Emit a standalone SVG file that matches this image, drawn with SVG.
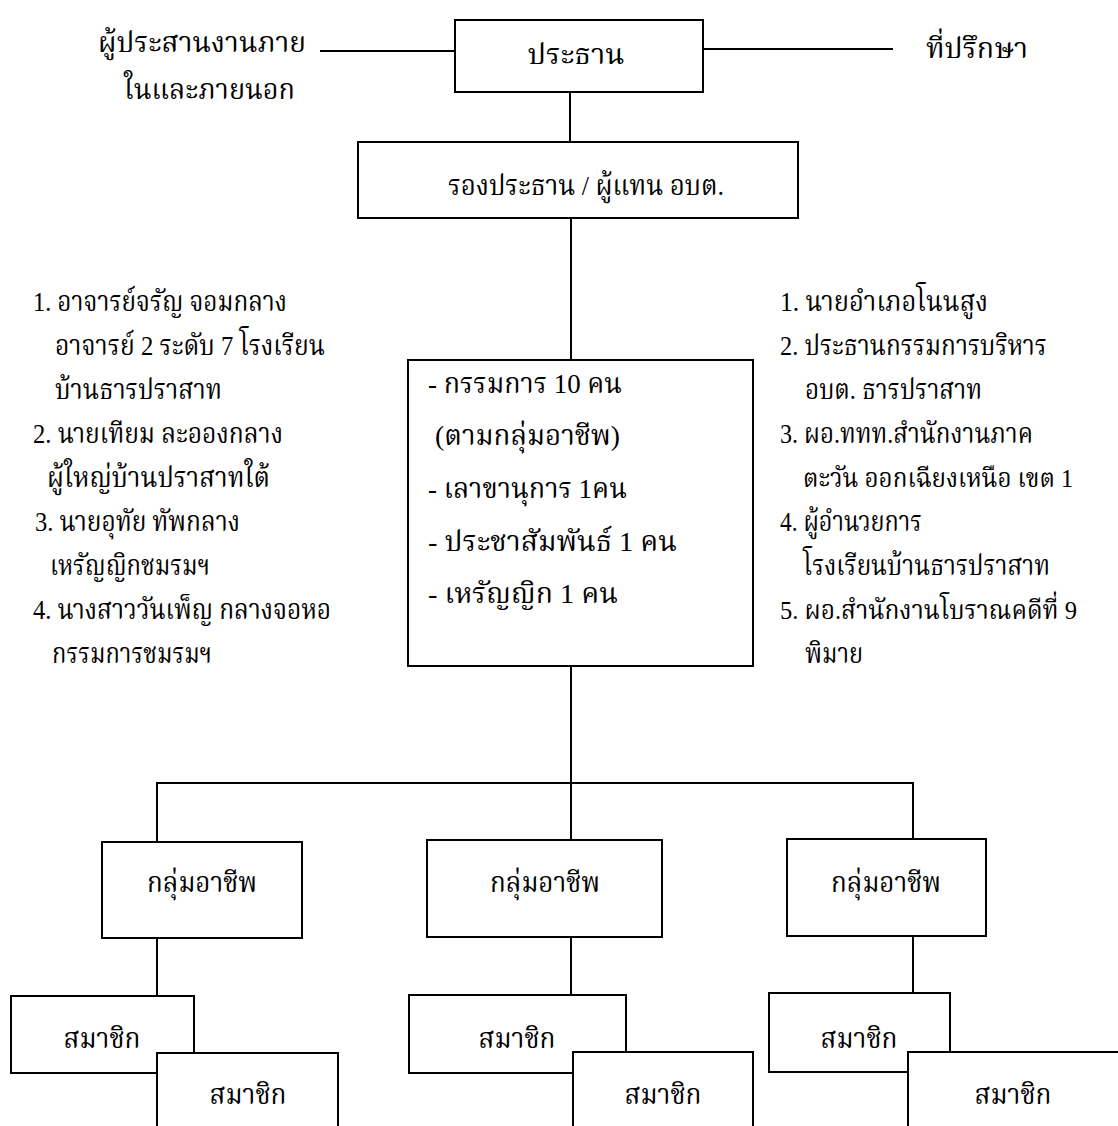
<svg xmlns="http://www.w3.org/2000/svg" width="1118" height="1126" viewBox="0 0 1118 1126">
<style>
text{font-family:"Liberation Serif","Noto Serif Thai",serif;font-size:28px;fill:#000}
.c{text-anchor:middle}
.s{font-size:26px}
.box{fill:#fff;stroke:#000;stroke-width:2}
.ln{stroke:#000;stroke-width:2;fill:none}
</style>
<rect width="1118" height="1126" fill="#fff"/>
<g id="connectors">
<line class="ln" x1="320" y1="51" x2="455" y2="51"/>
<line class="ln" x1="703" y1="49" x2="893" y2="49"/>
<line class="ln" x1="570" y1="92" x2="570" y2="142"/>
<line class="ln" x1="571" y1="218" x2="571" y2="360"/>
<line class="ln" x1="571" y1="666" x2="571" y2="840"/>
<polyline class="ln" points="157,842 157,783 913,783 913,839"/>
<line class="ln" x1="157" y1="938" x2="157" y2="996"/>
<line class="ln" x1="571" y1="937" x2="571" y2="995"/>
<line class="ln" x1="913" y1="936" x2="913" y2="993"/>
</g>
<g id="n-coord"><text x="98" y="52" textLength="208" lengthAdjust="spacingAndGlyphs">ผู้ประสานงานภาย</text><text x="124" y="99" textLength="171" lengthAdjust="spacingAndGlyphs">ในและภายนอก</text></g>
<g id="n-advisor"><text x="926" y="58" textLength="102" lengthAdjust="spacingAndGlyphs">ที่ปรึกษา</text></g>
<g id="n-chair"><rect class="box" x="455" y="20" width="248" height="72"/><text class="c" x="576" y="64" textLength="97" lengthAdjust="spacingAndGlyphs">ประธาน</text></g>
<g id="n-vice"><rect class="box" x="358" y="142" width="440" height="76"/><text class="c" x="586" y="195" textLength="276" lengthAdjust="spacingAndGlyphs">รองประธาน / ผู้แทน อบต.</text></g>
<g id="n-left-list">
<text x="33" y="311" textLength="254" lengthAdjust="spacingAndGlyphs">1. อาจารย์จรัญ  จอมกลาง</text>
<text x="55" y="355" textLength="270" lengthAdjust="spacingAndGlyphs">อาจารย์ 2 ระดับ 7 โรงเรียน</text>
<text x="55" y="399" textLength="167" lengthAdjust="spacingAndGlyphs">บ้านธารปราสาท</text>
<text x="33" y="443" textLength="250" lengthAdjust="spacingAndGlyphs">2. นายเทียม  ละอองกลาง</text>
<text x="47" y="487" textLength="223" lengthAdjust="spacingAndGlyphs">ผู้ใหญ่บ้านปราสาทใต้</text>
<text x="35" y="531" textLength="205" lengthAdjust="spacingAndGlyphs">3. นายอุทัย  ทัพกลาง</text>
<text x="50" y="575" textLength="160" lengthAdjust="spacingAndGlyphs">เหรัญญิกชมรมฯ</text>
<text x="33" y="619" textLength="298" lengthAdjust="spacingAndGlyphs">4. นางสาววันเพ็ญ กลางจอหอ</text>
<text x="52" y="663" textLength="160" lengthAdjust="spacingAndGlyphs">กรรมการชมรมฯ</text>
</g>
<g id="n-committee"><rect class="box" x="408" y="360" width="345" height="306"/>
<text x="428" y="393" textLength="194" lengthAdjust="spacingAndGlyphs">- กรรมการ 10 คน</text>
<text x="435" y="445" textLength="185" lengthAdjust="spacingAndGlyphs">(ตามกลุ่มอาชีพ)</text>
<text x="428" y="498" textLength="199" lengthAdjust="spacingAndGlyphs">- เลาขานุการ 1คน</text>
<text x="428" y="551" textLength="249" lengthAdjust="spacingAndGlyphs">- ประชาสัมพันธ์ 1 คน</text>
<text x="428" y="603" textLength="190" lengthAdjust="spacingAndGlyphs">- เหรัญญิก 1 คน</text>
</g>
<g id="n-right-list">
<text x="780" y="311" textLength="208" lengthAdjust="spacingAndGlyphs">1. นายอำเภอโนนสูง</text>
<text x="780" y="355" textLength="267" lengthAdjust="spacingAndGlyphs">2. ประธานกรรมการบริหาร</text>
<text x="805" y="399" textLength="177" lengthAdjust="spacingAndGlyphs">อบต. ธารปราสาท</text>
<text x="780" y="443" textLength="253" lengthAdjust="spacingAndGlyphs">3. ผอ.ททท.สำนักงานภาค</text>
<text class="s" x="803" y="487" textLength="270" lengthAdjust="spacingAndGlyphs">ตะวัน ออกเฉียงเหนือ เขต 1</text>
<text x="780" y="531" textLength="142" lengthAdjust="spacingAndGlyphs">4. ผู้อำนวยการ</text>
<text x="803" y="575" textLength="247" lengthAdjust="spacingAndGlyphs">โรงเรียนบ้านธารปราสาท</text>
<text class="s" x="780" y="619" textLength="297" lengthAdjust="spacingAndGlyphs">5. ผอ.สำนักงานโบราณคดีที่ 9</text>
<text x="805" y="663" textLength="58" lengthAdjust="spacingAndGlyphs">พิมาย</text>
</g>
<g id="n-group1"><rect class="box" x="102" y="842" width="200" height="96"/><text class="c" x="202" y="892" textLength="110" lengthAdjust="spacingAndGlyphs">กลุ่มอาชีพ</text></g>
<g id="n-group2"><rect class="box" x="427" y="840" width="235" height="97"/><text class="c" x="545" y="892" textLength="110" lengthAdjust="spacingAndGlyphs">กลุ่มอาชีพ</text></g>
<g id="n-group3"><rect class="box" x="787" y="839" width="199" height="97"/><text class="c" x="886" y="892" textLength="110" lengthAdjust="spacingAndGlyphs">กลุ่มอาชีพ</text></g>
<g id="n-m1a"><rect class="box" x="11" y="996" width="183" height="77"/><text class="c" x="102" y="1048" textLength="77" lengthAdjust="spacingAndGlyphs">สมาชิก</text></g>
<g id="n-m1b"><rect class="box" x="157" y="1053" width="181" height="80"/><text class="c" x="248" y="1104" textLength="77" lengthAdjust="spacingAndGlyphs">สมาชิก</text></g>
<g id="n-m2a"><rect class="box" x="409" y="995" width="217" height="78"/><text class="c" x="517" y="1048" textLength="77" lengthAdjust="spacingAndGlyphs">สมาชิก</text></g>
<g id="n-m2b"><rect class="box" x="573" y="1052" width="180" height="80"/><text class="c" x="663" y="1104" textLength="77" lengthAdjust="spacingAndGlyphs">สมาชิก</text></g>
<g id="n-m3a"><rect class="box" x="769" y="993" width="181" height="79"/><text class="c" x="859" y="1048" textLength="77" lengthAdjust="spacingAndGlyphs">สมาชิก</text></g>
<g id="n-m3b"><rect class="box" x="908" y="1052" width="220" height="80"/><text class="c" x="1013" y="1104" textLength="77" lengthAdjust="spacingAndGlyphs">สมาชิก</text></g>
</svg>
